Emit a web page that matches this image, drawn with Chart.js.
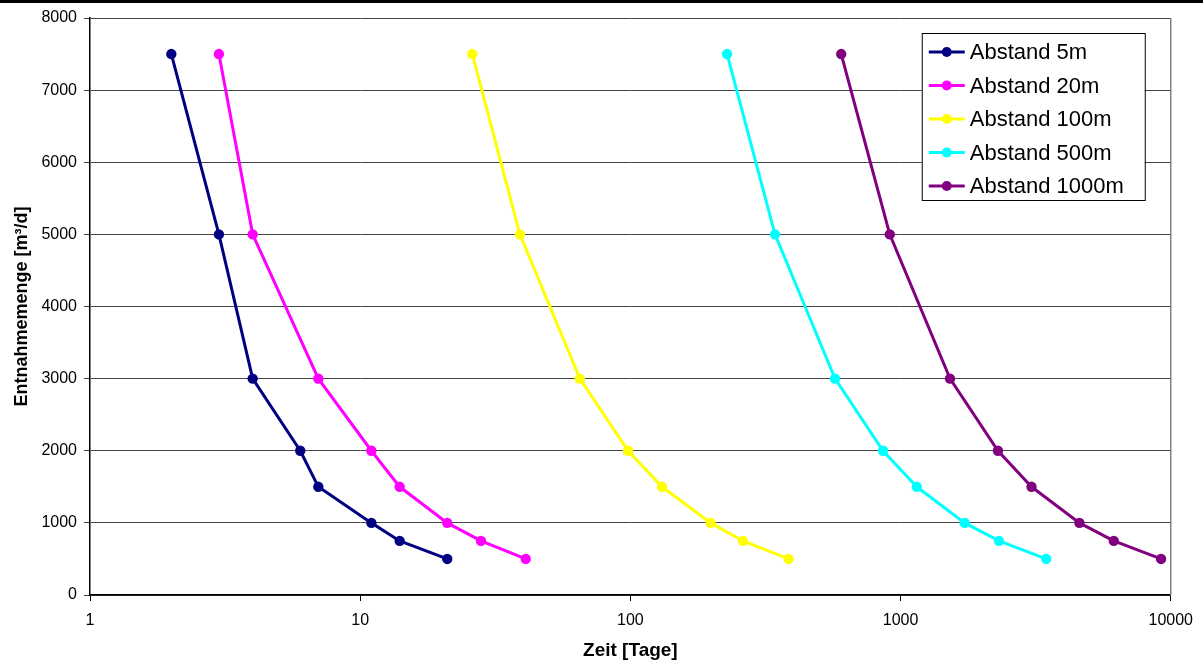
<!DOCTYPE html>
<html>
<head>
<meta charset="utf-8">
<script src="https://cdn.jsdelivr.net/npm/chart.js@4.4.0/dist/chart.umd.min.js"></script>
<style>
  html, body { margin:0; padding:0; background:#fff; }
  #wrap { width:1203px; height:662px; position:relative; }
</style>
</head>
<body>
<div id="wrap"><canvas id="c"></canvas></div>
<script>
// Entnahmemenge vs. Zeit, je Abstand

const entnahme = [7500, 5000, 3000, 2000, 1500, 1000, 750, 500]; // m³/d
const zeit5    = [2, 3, 4, 6, 7, 11, 14, 21];
const zeit20   = [3, 4, 7, 11, 14, 21, 28, 41];
const zeit100  = [26, 39, 65, 98, 131, 198, 261, 385];
const zeit500  = [228, 343, 572, 861, 1148, 1727, 2313, 3459];
const zeit1000 = [603, 912, 1524, 2293, 3053, 4592, 6152, 9206];
const names    = ['Abstand 5m','Abstand 20m','Abstand 100m','Abstand 500m','Abstand 1000m'];
const colors   = ['#000080','#ff00ff','#ffff00','#00ffff','#800080'];
const xTicks   = [1, 10, 100, 1000, 10000];

const series = [zeit5, zeit20, zeit100, zeit500, zeit1000];
const font = 'Arial, "Liberation Sans", sans-serif';

// schwarzer Balken oben, Rahmen rechts, eigene Legende
const deco = {
  id:'deco',
  beforeDraw(chart) {
    const c = chart.ctx;
    c.save();
    c.fillStyle = '#fff';
    c.fillRect(0, 0, chart.width, chart.height);
    c.fillStyle = '#000';
    c.fillRect(0, 0, chart.width, 3);
    c.restore();
  },
  afterDraw(chart) {
    const c = chart.ctx, a = chart.chartArea;
    c.save();
    c.strokeStyle = '#808080'; c.lineWidth = 1.5;
    c.beginPath(); c.moveTo(a.right, a.top); c.lineTo(a.right, a.bottom); c.stroke();

    const bx = a.right - 249, by = a.top + 15, bw = 223, bh = 167;
    c.fillStyle = '#fff'; c.fillRect(bx, by, bw, bh);
    c.strokeStyle = '#000'; c.lineWidth = 1;
    c.strokeRect(bx + 0.5, by + 0.5, bw, bh);
    c.font = '22px ' + font; c.textBaseline = 'middle'; c.textAlign = 'left';
    chart.data.datasets.forEach((ds, i) => {
      const y = by + 19 + i * 33.5;
      c.strokeStyle = ds.borderColor; c.lineWidth = 3;
      c.beginPath(); c.moveTo(bx + 7, y); c.lineTo(bx + 43, y); c.stroke();
      c.fillStyle = ds.borderColor;
      c.beginPath(); c.arc(bx + 25, y, 5, 0, Math.PI * 2); c.fill();
      c.fillStyle = '#000';
      c.fillText(ds.label, bx + 48, y + 1);
    });
    c.restore();
  }
};

new Chart(document.getElementById('c'), {
  type:'line',
  data:{
    datasets: series.map((xs, i) => ({
      label: names[i],
      data: xs.map((x, j) => ({ x, y: entnahme[j] })),
      borderColor: colors[i],
      backgroundColor: colors[i],
      borderWidth: 3,
      pointRadius: 5.2,
      pointBorderWidth: 0,
      tension: 0
    }))
  },
  options:{
    responsive:true,
    maintainAspectRatio:false,
    animation:false,
    layout:{ padding:{ top:18, right:29, left:0, bottom:0 } },
    plugins:{ legend:{ display:false }, tooltip:{ enabled:false } },
    scales:{
      x:{
        type:'logarithmic',
        min:1, max:10000,
        afterBuildTicks(s) { s.ticks = xTicks.map(v => ({ value:v })); },
        afterFit(s) { s.height = 67; },
        grid:{ drawOnChartArea:false, drawTicks:true, tickLength:6, color:'#000' },
        border:{ color:'#000', width:1.5 },
        ticks:{ color:'#000', font:{ family:font, size:16 }, padding:10, maxRotation:0,
                callback:(v) => String(v) },
        title:{ display:true, text:'Zeit [Tage]', color:'#000',
                font:{ family:font, size:19, weight:'bold' }, padding:{ top:0, bottom:0 } }
      },
      y:{
        min:0, max:8000,
        afterFit(s) { s.width = 90; },
        grid:{ color:'#444', lineWidth:1, tickLength:6 },
        border:{ color:'#000', width:1.5 },
        ticks:{ stepSize:1000, color:'#000', font:{ family:font, size:16 }, padding:7,
                callback:(v) => String(v) },
        title:{ display:true, text:'Entnahmemenge [m³/d]', color:'#000',
                font:{ family:font, size:18, weight:'bold' }, padding:{ top:11, bottom:0 } }
      }
    }
  },
  plugins:[deco]
});
</script>
</body>
</html>
